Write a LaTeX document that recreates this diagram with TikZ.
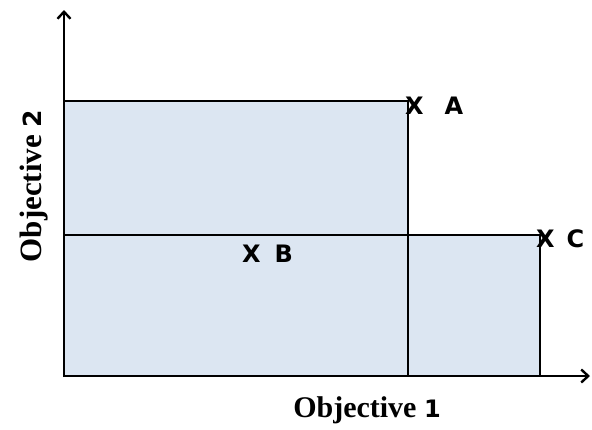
\documentclass[tikz,border=0pt]{standalone}
\usepackage{fontspec}
\setmainfont{Liberation Serif}
\newfontfamily\lblfont{DejaVu Sans}
\usetikzlibrary{arrows.meta}
\definecolor{regionfill}{HTML}{DCE6F2}
\tikzset{
  axis/.style={line width=2pt,-{Straight Barb[length=7pt,width=13pt,line width=2.4pt]}},
  edge/.style={line width=2pt},
  ptlabel/.style={font=\lblfont\bfseries\fontsize{24}{24}\selectfont,inner sep=0pt,anchor=base west},
  axlabel/.style={font=\bfseries\fontsize{30}{30}\selectfont,inner sep=0pt}
}
\begin{document}
\begin{tikzpicture}[x=1pt,y=-1pt]
\useasboundingbox (0,0) rectangle (592,429);
\coordinate (O) at (64,376);
\coordinate (ytop) at (64,10);
\coordinate (xend) at (590,376);
\coordinate (Acorner) at (408,101);
\coordinate (Ccorner) at (540,235);
\fill[regionfill] (O) rectangle (Acorner);
\fill[regionfill] (O) rectangle (Ccorner);
\draw[edge] (O |- Acorner) -- (Acorner) -- (Acorner |- O);
\draw[edge] (O |- Ccorner) -- (Ccorner) -- (Ccorner |- O);
\draw[axis] (64,377) -- (ytop);
\draw[axis] (63,376) -- (xend);
\node[ptlabel] (A) at (405,114) {X\hspace{21pt}A};
\node[ptlabel] (B) at (242,262) {X\hspace{14pt}B};
\node[ptlabel] (C) at (536,247) {X\hspace{12pt}C};
\node[axlabel,anchor=base] (xl) at (367,417) {Objective {\lblfont\fontsize{24}{24}\selectfont 1}};
\node[axlabel,anchor=base,rotate=90] (yl) at (41,186) {\fontsize{31}{31}\selectfont Objective {\lblfont\fontsize{25}{25}\selectfont 2}};
\end{tikzpicture}
\end{document}
